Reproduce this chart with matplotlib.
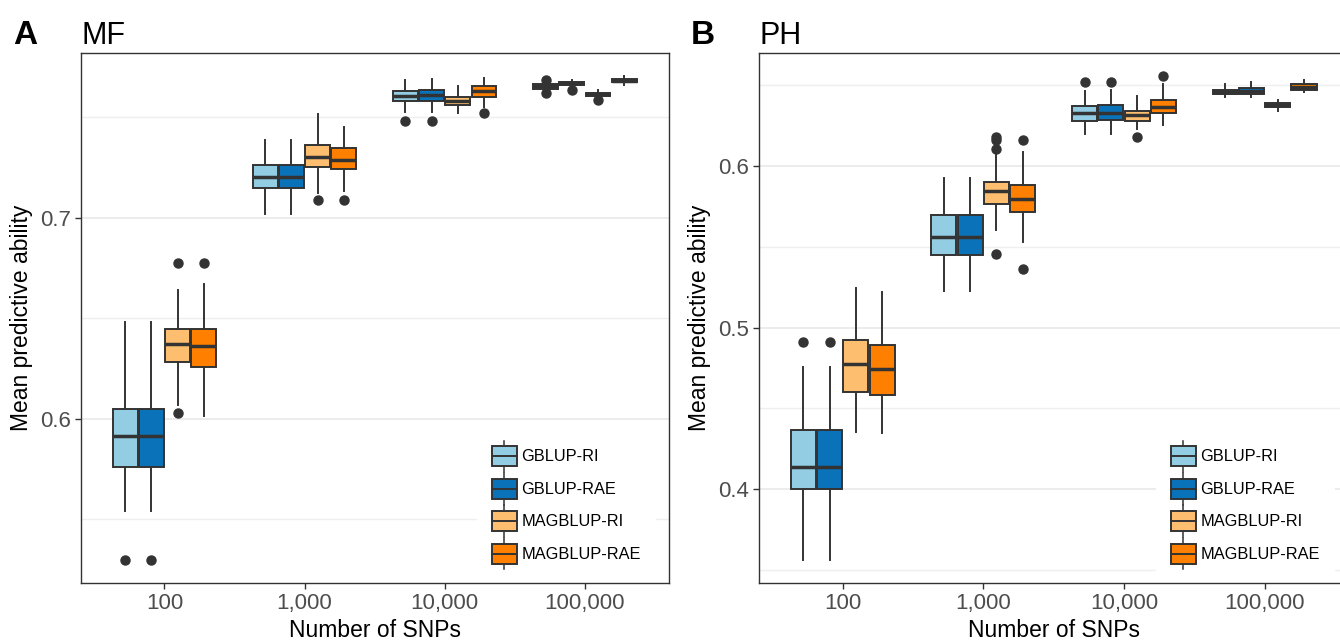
import numpy as np
import matplotlib
matplotlib.use('Agg')
import matplotlib.pyplot as plt
from matplotlib.patches import Rectangle
from matplotlib.lines import Line2D
from matplotlib.legend_handler import HandlerBase
from matplotlib.ticker import MultipleLocator

plt.rcParams['font.family'] = ['Liberation Sans', 'DejaVu Sans']

SNPS = [100, 1000, 10000, 100000]
SNP_LABELS = ['100', '1,000', '10,000', '100,000']
METHODS = ['GBLUP-RI', 'GBLUP-RAE', 'MAGBLUP-RI', 'MAGBLUP-RAE']
COLORS = ['#92CDE3', '#0A72B8', '#FDBF6F', '#FF7F00']

# MF -- rows are methods, columns are SNP sets
MF_WHISHI = [
    [0.648, 0.739, 0.7688, 0.7672],
    [0.648, 0.739, 0.7691, 0.7688],
    [0.664, 0.7517, 0.7654, 0.7634],
    [0.667, 0.745, 0.7696, 0.7705],
]
MF_Q3 = [
    [0.605, 0.7262, 0.7633, 0.7664],
    [0.605, 0.7262, 0.7636, 0.7678],
    [0.645, 0.7361, 0.7601, 0.7624],
    [0.645, 0.7347, 0.7654, 0.7691],
]
MF_MED = [
    [0.5914, 0.7205, 0.7607, 0.7654],
    [0.5914, 0.7205, 0.7611, 0.767],
    [0.6373, 0.7302, 0.7582, 0.7616],
    [0.6361, 0.7289, 0.7629, 0.7683],
]
MF_Q1 = [
    [0.576, 0.7148, 0.7581, 0.7641],
    [0.576, 0.7148, 0.7584, 0.7661],
    [0.6281, 0.7252, 0.756, 0.7607],
    [0.626, 0.7243, 0.7604, 0.7674],
]
MF_WHISLO = [
    [0.5541, 0.702, 0.7529, 0.7632],
    [0.5541, 0.702, 0.7529, 0.7652],
    [0.607, 0.7122, 0.7523, 0.760],
    [0.6017, 0.7134, 0.7554, 0.7663],
]
MF_FLIERS = [
    [[0.530], [], [0.7482], [0.7688, 0.7621]],
    [[0.530], [], [0.7482], [0.7638]],
    [[0.6778, 0.603], [0.7089], [], [0.7587]],
    [[0.6778], [0.7089], [0.752], []],
]

# PH
PH_WHISHI = [
    [0.4757, 0.5923, 0.6466, 0.6507],
    [0.4757, 0.5923, 0.6472, 0.6517],
    [0.5248, 0.6072, 0.6434, 0.641],
    [0.5223, 0.6089, 0.6507, 0.6534],
]
PH_Q3 = [
    [0.4366, 0.5694, 0.6372, 0.6472],
    [0.4366, 0.5694, 0.6377, 0.648],
    [0.4922, 0.5903, 0.6341, 0.6389],
    [0.4895, 0.588, 0.641, 0.6505],
]
PH_MED = [
    [0.414, 0.5561, 0.6327, 0.6457],
    [0.414, 0.5561, 0.6331, 0.6466],
    [0.4772, 0.5843, 0.6314, 0.6377],
    [0.4747, 0.5793, 0.6366, 0.6488],
]
PH_Q1 = [
    [0.400, 0.5452, 0.6279, 0.6443],
    [0.400, 0.5452, 0.6283, 0.6447],
    [0.4603, 0.5766, 0.6279, 0.6362],
    [0.4586, 0.5714, 0.6327, 0.6472],
]
PH_WHISLO = [
    [0.3564, 0.5224, 0.6197, 0.6424],
    [0.3564, 0.5224, 0.6197, 0.643],
    [0.4352, 0.5607, 0.6228, 0.6341],
    [0.4346, 0.5528, 0.6252, 0.6455],
]
PH_FLIERS = [
    [[0.4912], [], [0.6517], []],
    [[0.4912], [], [0.6521], []],
    [[], [0.6182, 0.6161, 0.6108, 0.5458], [0.618], []],
    [[], [0.6163, 0.5363], [0.6559], []],
]

EDGE = '#333333'
OFFSETS = [-0.28, -0.0935, 0.0935, 0.28]
BOX_W = 0.178


class BoxKeyHandler(HandlerBase):
    """Legend key drawn like a small boxplot."""

    def create_artists(self, legend, orig_handle, xdescent, ydescent,
                       width, height, fontsize, trans):
        x0, y0 = -xdescent, -ydescent
        xc = x0 + width / 2
        bh = height * 0.63
        by = y0 + (height - bh) / 2
        whisk = Line2D([xc, xc], [y0, y0 + height], color=EDGE, lw=1.1, transform=trans)
        rect = Rectangle((x0, by), width, bh, facecolor=orig_handle.get_facecolor(),
                         edgecolor=EDGE, lw=1.4, transform=trans)
        med = Line2D([x0, x0 + width], [y0 + height / 2] * 2, color=EDGE, lw=1.4,
                     transform=trans)
        return [whisk, rect, med]


def draw_panel(fig, rect, whislo, q1, med, q3, whishi, fliers, ylim, letter, title,
               legend_xy):
    ax = fig.add_axes(rect)
    for m in range(len(METHODS)):
        stats = []
        for g in range(len(SNPS)):
            stats.append(dict(whislo=whislo[m][g], q1=q1[m][g], med=med[m][g],
                              q3=q3[m][g], whishi=whishi[m][g], fliers=fliers[m][g]))
        pos = [np.log10(s) + OFFSETS[m] for s in SNPS]
        ax.bxp(stats, positions=pos, widths=BOX_W, patch_artist=True, showcaps=False,
               manage_ticks=False, zorder=3,
               boxprops=dict(facecolor=COLORS[m], edgecolor=EDGE, linewidth=1.4),
               medianprops=dict(color=EDGE, linewidth=2.5),
               whiskerprops=dict(color=EDGE, linewidth=1.4),
               flierprops=dict(marker='o', markerfacecolor=EDGE, markeredgecolor=EDGE,
                               markersize=6.5))

    ax.set_xlim(1.405, 5.6)
    ax.set_ylim(*ylim)
    ax.set_xticks(np.log10(SNPS))
    ax.set_xticklabels(SNP_LABELS)
    ax.yaxis.set_major_locator(MultipleLocator(0.1))
    ax.yaxis.set_minor_locator(MultipleLocator(0.05))
    ax.grid(axis='y', which='major', color='#EBEBEB', lw=1.3, zorder=0)
    ax.grid(axis='y', which='minor', color='#EFEFEF', lw=1.0, zorder=0)
    ax.set_axisbelow(True)
    ax.tick_params(axis='both', which='major', length=4, width=1, color=EDGE,
                   labelsize=16, labelcolor='#4D4D4D', pad=3)
    ax.tick_params(axis='y', which='minor', length=0)
    for sp in ax.spines.values():
        sp.set_color(EDGE)
        sp.set_linewidth(1.0)

    ax.set_xlabel('Number of SNPs', fontsize=16.5)
    ax.set_ylabel('Mean predictive ability', fontsize=16.5)
    ax.xaxis.set_label_coords(0.5, -0.068)
    ax.yaxis.set_label_coords(-0.082, 0.5)

    W, H = fig.get_size_inches() * fig.dpi
    fig.text(rect[0] - 56 / W, 1 - 36 / H, letter, fontsize=24, fontweight='bold',
             ha='center', va='center')
    fig.text(rect[0], 1 - 36 / H, title, fontsize=22, ha='left', va='center')

    handles = [Rectangle((0, 0), 1, 1, facecolor=c) for c in COLORS]
    leg = ax.legend(handles, METHODS, handler_map={Rectangle: BoxKeyHandler()},
                    loc='center left', bbox_to_anchor=legend_xy,
                    bbox_transform=fig.transFigure, fontsize=11.8, frameon=True,
                    fancybox=False, edgecolor='none', facecolor='white', framealpha=1,
                    handlelength=1.52, handleheight=2.6, labelspacing=0.04,
                    handletextpad=0.3, borderpad=0.9, borderaxespad=0)
    # above the grid, below the frame
    leg.set_zorder(2)
    return ax


fig = plt.figure(figsize=(13.4, 6.4), dpi=100)
W, H = 1340, 640
bottom, top = 583, 52.7

draw_panel(fig, [81 / W, 1 - bottom / H, 588 / W, (bottom - top) / H],
           MF_WHISLO, MF_Q1, MF_MED, MF_Q3, MF_WHISHI, MF_FLIERS,
           (0.5184, 0.7822), 'A', 'MF', (477 / W, 1 - 505 / H))
draw_panel(fig, [759 / W, 1 - bottom / H, 590 / W, (bottom - top) / H],
           PH_WHISLO, PH_Q1, PH_MED, PH_Q3, PH_WHISHI, PH_FLIERS,
           (0.342, 0.6701), 'B', 'PH', (1156 / W, 1 - 505 / H))

fig.savefig('out.png', dpi=100)
